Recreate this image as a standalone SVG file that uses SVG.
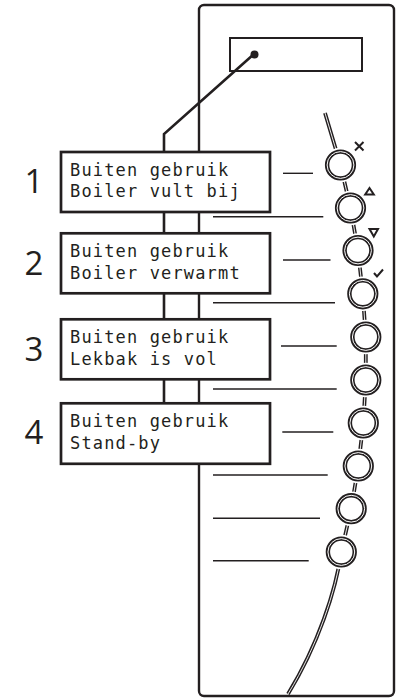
<svg xmlns="http://www.w3.org/2000/svg" width="398" height="698" viewBox="0 0 398 698">
<defs>
<style>
.panel{fill:#fff;stroke:#231f20;stroke-width:2.4}
.disp{fill:none;stroke:#231f20;stroke-width:2}
.box{fill:#fff;stroke:#231f20;stroke-width:2.7}
.lcd{font-family:"DejaVu Sans Mono","Liberation Mono",monospace;font-size:17px;letter-spacing:1.15px;fill:#231f20}
.num{font-family:"Open Sans","Noto Sans","Liberation Sans",sans-serif;font-size:33px;fill:#231f20;text-anchor:middle}
.lead{stroke:#231f20;stroke-width:1.4;fill:none}
.wire{stroke:#231f20;stroke-width:2.6;fill:none}
.chainO{stroke:#231f20;stroke-width:3.8;fill:none}
.chainI{stroke:#fff;stroke-width:0.9;fill:none}
.mask{fill:#fff;stroke:none}
.ringO{fill:#fff;stroke:#231f20;stroke-width:4.4}
.ringI{fill:none;stroke:#fff;stroke-width:1}
.sym{fill:none;stroke:#231f20;stroke-width:2;stroke-linejoin:miter}
</style>
</defs>
<g id="panel">
<rect class="panel" x="199" y="5" width="195" height="691" rx="5"/>
<rect class="disp" x="230" y="38" width="132" height="33"/>
</g>
<g id="connectors">
<polyline class="wire" points="254,54 164,134 164,403"/>
<circle cx="254.5" cy="54.5" r="4" fill="#231f20"/>
<line class="lead" x1="283" y1="173.3" x2="313" y2="173.3"/>
<line class="lead" x1="213" y1="216.7" x2="323.3" y2="216.7"/>
<line class="lead" x1="283" y1="260" x2="330.5" y2="260"/>
<line class="lead" x1="213" y1="302.7" x2="335" y2="302.7"/>
<line class="lead" x1="281" y1="346" x2="336.7" y2="346"/>
<line class="lead" x1="213" y1="389" x2="336.7" y2="389"/>
<line class="lead" x1="282.3" y1="432" x2="333.3" y2="432"/>
<line class="lead" x1="213" y1="475" x2="327.7" y2="475"/>
<line class="lead" x1="213" y1="518.3" x2="320" y2="518.3"/>
<line class="lead" x1="213" y1="560.7" x2="308.7" y2="560.7"/>
<path class="chainO" d="M325,113 L340.5,165 L350.5,208 L358,250.5 L362.8,293.8 L365.8,337 L365.8,380 L363.3,423 L358.3,466 L351.2,508.7 L341.3,552 C336,590 318,645 288,694"/>
<path class="chainI" d="M325,113 L340.5,165 L350.5,208 L358,250.5 L362.8,293.8 L365.8,337 L365.8,380 L363.3,423 L358.3,466 L351.2,508.7 L341.3,552 C336,590 318,645 288,694"/>
</g>
<g id="box1">
<rect class="box" x="61" y="152" width="209" height="60"/>
<text class="lcd" x="70" y="176">Buiten gebruik</text>
<text class="lcd" x="70" y="197">Boiler vult bij</text>
<text class="num" x="34" y="193">1</text>
</g>
<g id="box2">
<rect class="box" x="61" y="233.3" width="209" height="60"/>
<text class="lcd" x="70" y="257">Buiten gebruik</text>
<text class="lcd" x="70" y="279">Boiler verwarmt</text>
<text class="num" x="34" y="275">2</text>
</g>
<g id="box3">
<rect class="box" x="61" y="319.3" width="209" height="60"/>
<text class="lcd" x="70" y="342.5">Buiten gebruik</text>
<text class="lcd" x="70" y="365">Lekbak is vol</text>
<text class="num" x="34" y="361">3</text>
</g>
<g id="box4">
<rect class="box" x="61" y="403.3" width="209" height="60.5"/>
<text class="lcd" x="70" y="427">Buiten gebruik</text>
<text class="lcd" x="70" y="448.5">Stand-by</text>
<text class="num" x="34" y="444">4</text>
</g>
<g id="buttons">
<g id="btn1"><circle class="mask" cx="340.5" cy="165" r="17.3"/><circle class="ringO" cx="340.5" cy="165" r="13.4"/><circle class="ringI" cx="340.5" cy="165" r="13.4"/></g>
<g id="btn2"><circle class="mask" cx="350.5" cy="208" r="17.3"/><circle class="ringO" cx="350.5" cy="208" r="13.4"/><circle class="ringI" cx="350.5" cy="208" r="13.4"/></g>
<g id="btn3"><circle class="mask" cx="358" cy="250.5" r="17.3"/><circle class="ringO" cx="358" cy="250.5" r="13.4"/><circle class="ringI" cx="358" cy="250.5" r="13.4"/></g>
<g id="btn4"><circle class="mask" cx="362.8" cy="293.8" r="17.3"/><circle class="ringO" cx="362.8" cy="293.8" r="13.4"/><circle class="ringI" cx="362.8" cy="293.8" r="13.4"/></g>
<g id="btn5"><circle class="mask" cx="365.8" cy="337" r="17.3"/><circle class="ringO" cx="365.8" cy="337" r="13.4"/><circle class="ringI" cx="365.8" cy="337" r="13.4"/></g>
<g id="btn6"><circle class="mask" cx="365.8" cy="380" r="17.3"/><circle class="ringO" cx="365.8" cy="380" r="13.4"/><circle class="ringI" cx="365.8" cy="380" r="13.4"/></g>
<g id="btn7"><circle class="mask" cx="363.3" cy="423" r="17.3"/><circle class="ringO" cx="363.3" cy="423" r="13.4"/><circle class="ringI" cx="363.3" cy="423" r="13.4"/></g>
<g id="btn8"><circle class="mask" cx="358.3" cy="466" r="17.3"/><circle class="ringO" cx="358.3" cy="466" r="13.4"/><circle class="ringI" cx="358.3" cy="466" r="13.4"/></g>
<g id="btn9"><circle class="mask" cx="351.2" cy="508.7" r="17.3"/><circle class="ringO" cx="351.2" cy="508.7" r="13.4"/><circle class="ringI" cx="351.2" cy="508.7" r="13.4"/></g>
<g id="btn10"><circle class="mask" cx="341.3" cy="552" r="17.3"/><circle class="ringO" cx="341.3" cy="552" r="13.4"/><circle class="ringI" cx="341.3" cy="552" r="13.4"/></g>
</g>
<g id="icons">
<path class="sym" d="M355,142 L363.5,150.5 M363.5,142 L355,150.5"/>
<path class="sym" d="M369.5,188 L373.8,194.5 L365.2,194.5 Z"/>
<path class="sym" d="M369.5,229 L378,229 L373.8,236.5 Z"/>
<path class="sym" d="M374,273 L377,276.5 L383,269.5"/>
</g>
</svg>
